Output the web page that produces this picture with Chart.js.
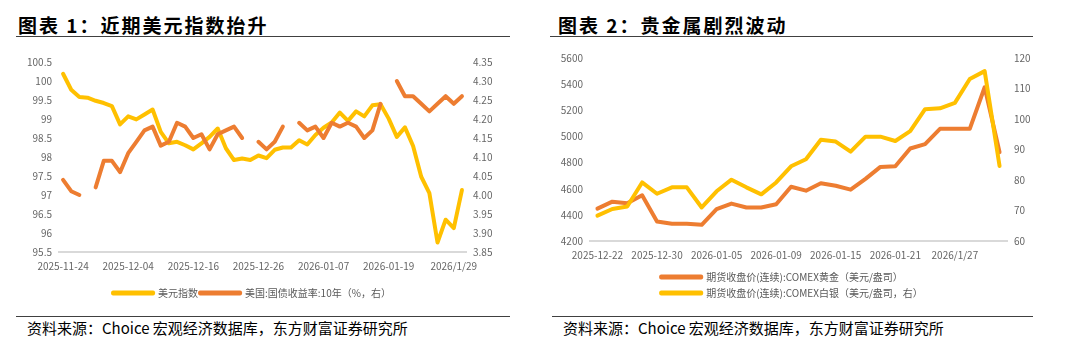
<!DOCTYPE html>
<html>
<head>
<meta charset="utf-8">
<script src="https://cdn.jsdelivr.net/npm/chart.js@4.4.1/dist/chart.umd.min.js"></script>
<style>
    body { margin: 0; width: 1080px; height: 343px; background: #fff; position: relative; overflow: hidden;
           font-family: "Noto Sans CJK SC", sans-serif; }
    .title { position: absolute; top: 15px; font-size: 19px; line-height: 19px; font-weight: 700;
             letter-spacing: 2px; color: #000; white-space: nowrap; }
    .rule { position: absolute; height: 0; border-top: 1.5px solid #404040; }
    .src { position: absolute; top: 320px; font-size: 15px; line-height: 15px; color: #000; white-space: nowrap; }
    .box { position: absolute; top: 45px; width: 540px; height: 265px; }
</style>
</head>
<body>

<div class="title" style="left:18px">图表 1：近期美元指数抬升</div>
<div class="rule" style="left:16px;width:494px;top:36px"></div>
<div class="box" style="left:0"><canvas id="usdChart"></canvas></div>
<div class="rule" style="left:16px;width:494px;top:316px"></div>
<div class="src" style="left:27px">资料来源：Choice 宏观经济数据库，东方财富证券研究所</div>

<div class="title" style="left:558px">图表 2：贵金属剧烈波动</div>
<div class="rule" style="left:550px;width:483px;top:36px"></div>
<div class="box" style="left:540px"><canvas id="metalChart"></canvas></div>
<div class="rule" style="left:552px;width:481px;top:316px"></div>
<div class="src" style="left:563px">资料来源：Choice 宏观经济数据库，东方财富证券研究所</div>

<script>
// ---------- data: chart 1 ----------
const usdDates = [
    '2025-11-24','2025-11-25','2025-11-26','2025-11-27','2025-11-28',
    '2025-12-01','2025-12-02','2025-12-03','2025-12-04','2025-12-05',
    '2025-12-08','2025-12-09','2025-12-10','2025-12-11','2025-12-12',
    '2025-12-15','2025-12-16','2025-12-17','2025-12-18','2025-12-19',
    '2025-12-22','2025-12-23','2025-12-24','2025-12-25','2025-12-26',
    '2025-12-29','2025-12-30','2025-12-31','2026-01-01','2026-01-02',
    '2026-01-05','2026-01-06','2026-01-07','2026-01-08','2026-01-09',
    '2026-01-12','2026-01-13','2026-01-14','2026-01-15','2026-01-16',
    '2026-01-19','2026-01-20','2026-01-21','2026-01-22','2026-01-23',
    '2026-01-26','2026-01-27','2026-01-28','2026/1/29','2026-01-30'
];
const usdIndex = [
    100.19, 99.77, 99.58, 99.56, 99.48, 99.42, 99.34, 98.86, 99.07, 98.99,
    99.12, 99.25, 98.66, 98.36, 98.40, 98.31, 98.20, 98.36, 98.53, 98.75,
    98.23, 97.92, 97.96, 97.92, 98.04, 97.97, 98.19, 98.25, 98.25, 98.44,
    98.33, 98.58, 98.77, 98.91, 99.17, 98.95, 99.20, 99.07, 99.36, 99.39,
    99.01, 98.53, 98.78, 98.29, 97.48, 97.05, 95.75, 96.35, 96.13, 97.13
];
const us10y = [
    4.04, 4.01, 4.00, null, 4.02, 4.09, 4.09, 4.06, 4.11, 4.14,
    4.17, 4.18, 4.13, 4.14, 4.19, 4.18, 4.15, 4.16, 4.12, 4.16,
    4.17, 4.18, 4.15, null, 4.14, 4.12, 4.14, 4.18, null, 4.19,
    4.17, 4.18, 4.15, 4.19, 4.18, 4.19, 4.18, 4.15, 4.17, 4.24,
    null, 4.30, 4.26, 4.26, 4.24, 4.22, 4.24, 4.26, 4.24, 4.26
];

// ---------- data: chart 2 ----------
const metalDates = [
    '2025-12-22','2025-12-23','2025-12-24','2025-12-29','2025-12-30',
    '2025-12-31','2026-01-01','2026-01-02','2026-01-05','2026-01-06',
    '2026-01-07','2026-01-08','2026-01-09','2026-01-12','2026-01-13',
    '2026-01-14','2026-01-15','2026-01-16','2026-01-19','2026-01-20',
    '2026-01-21','2026-01-22','2026-01-23','2026-01-26','2026/1/27',
    '2026-01-28','2026-01-29','2026-01-30'
];
const goldPx = [
    4448, 4501, 4488, 4550, 4349, 4332, 4332, 4324, 4443, 4486,
    4456, 4456, 4481, 4615, 4585, 4642, 4623, 4593, 4675, 4767,
    4772, 4908, 4941, 5058, 5058, 5058, 5376, 4879
];
const silverPx = [
    68.3, 70.5, 71.3, 79.2, 75.5, 77.6, 77.6, 71.0, 76.3, 80.1,
    77.6, 75.3, 79.2, 84.5, 86.8, 93.2, 92.6, 89.3, 94.2, 94.2,
    92.8, 96.0, 103.2, 103.5, 105.3, 113.1, 115.7, 84.6
];

const YELLOW = '#FFC000';
const ORANGE = '#ED7D31';

// Shared Chart.js defaults
Chart.defaults.font.family = "'Noto Sans CJK SC', sans-serif";
Chart.defaults.font.size = 10;
Chart.defaults.color = '#666';
Chart.defaults.animation = false;

// Helper: line dataset
function lineDs(label, data, color, axis, order) {
    return {
        label, data, yAxisID: axis, order,
        borderColor: color, backgroundColor: color,
        borderWidth: 4, pointRadius: 0, tension: 0,
        borderJoinStyle: 'round', borderCapStyle: 'round'
    };
}

// Helper: value axis with fixed width
function yAxis(pos, min, max, step, width, fmt) {
    return {
        position: pos, min, max,
        grid: { display: false, drawTicks: false },
        border: { display: false },
        ticks: { stepSize: step, padding: 7, callback: fmt },
        afterFit: s => { s.width = width; }
    };
}

// Helper: date axis, label every n-th point
function xAxis(every, height) {
    return {
        type: 'category', offset: true,
        grid: { display: false, drawTicks: false },
        border: { display: true, color: '#d9d9d9', width: 2 },
        ticks: {
            autoSkip: false, maxRotation: 0, padding: 8,
            callback: function (v, i) { return i % every === 0 ? this.getLabelForValue(v) : null; }
        },
        afterFit: s => { s.height = height; }
    };
}

function legendOpts(pad) {
    return {
        position: 'bottom',
        labels: {
            boxWidth: 40, boxHeight: 1, padding: pad, color: '#595959',
            font: { size: 10 },
            sort: (a, b) => a.datasetIndex - b.datasetIndex
        }
    };
}

// Chart 1: dollar index vs US 10y
new Chart(document.getElementById('usdChart'), {
    type: 'line',
    data: {
        labels: usdDates,
        datasets: [
            lineDs('美元指数', usdIndex, YELLOW, 'yL', 2),
            lineDs('美国:国债收益率:10年（%，右）', us10y, ORANGE, 'yR', 1)
        ]
    },
    options: {
        responsive: true,
        maintainAspectRatio: false,
        layout: { padding: { top: 17, left: 0, right: 36, bottom: 2 } },
        plugins: { legend: legendOpts(2), tooltip: { enabled: false } },
        scales: {
            x: xAxis(8, 34),
            yL: yAxis('left', 95.5, 100.5, 0.5, 59, v => String(Math.round(v * 10) / 10)),
            yR: yAxis('right', 3.85, 4.35, 0.05, 38, v => v.toFixed(2))
        }
    }
});

// Chart 2: gold & silver
new Chart(document.getElementById('metalChart'), {
    type: 'line',
    data: {
        labels: metalDates,
        datasets: [
            lineDs('期货收盘价(连续):COMEX黄金（美元/盎司）\u3000\u3000\u2002', goldPx, ORANGE, 'yL', 2),
            lineDs('期货收盘价(连续):COMEX白银（美元/盎司，右）', silverPx, YELLOW, 'yR', 1)
        ]
    },
    options: {
        responsive: true,
        maintainAspectRatio: false,
        layout: { padding: { top: 8, left: 0, right: 36, bottom: 2 } },
        plugins: { legend: legendOpts(6), tooltip: { enabled: false } },
        scales: {
            x: xAxis(4, 25),
            yL: yAxis('left', 4200, 5600, 200, 50, v => String(v)),
            yR: yAxis('right', 60, 120, 10, 37, v => String(v))
        }
    }
});
</script>
</body>
</html>
